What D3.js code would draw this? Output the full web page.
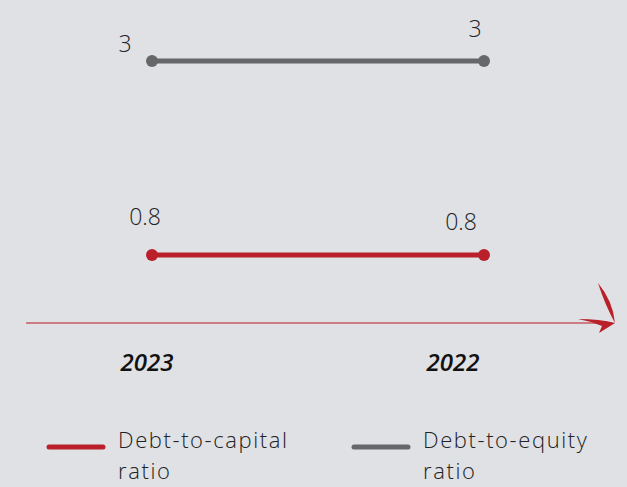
<!DOCTYPE html>
<html>
<head>
<meta charset="utf-8">
<script src="https://cdn.jsdelivr.net/npm/d3@7"></script>
<style>
  html, body { margin: 0; padding: 0; background: #dfe1e5; }
  svg { display: block; }
</style>
</head>
<body>
<svg id="chart" width="627" height="487"></svg>
<script>
// Ratios by year
const years = ["2023", "2022"];
const debtToCapital = [0.8, 0.8];
const debtToEquity = [3, 3];
const seriesNames = ["Debt-to-capital ratio", "Debt-to-equity ratio"];

const W = 627, H = 487;
const svg = d3.select("#chart");

svg.append("rect").attr("width", W).attr("height", H).attr("fill", "#dfe1e5");

const x = d3.scalePoint().domain(years).range([152, 484]);
const y = d3.scaleLinear().domain([0, 3]).range([325.5, 61]);

const series = [
  { name: seriesNames[0], values: debtToCapital, color: "#b9202a",
    labelOffsets: [[-7, -30], [-23, -25]] },
  { name: seriesNames[1], values: debtToEquity, color: "#666769",
    labelOffsets: [[-27, -9], [-9, -24]] }
];

// Baseline with brush-stroke arrow
const baseY = 323;
svg.append("line")
  .attr("x1", 26).attr("x2", 612)
  .attr("y1", baseY).attr("y2", baseY)
  .attr("stroke", "#c65a60").attr("stroke-width", 1.3);

const ax = 615, ay = baseY;
svg.append("path")
  .attr("d", `M${ax - 17},${ay - 40} Q${ax - 2},${ay - 22} ${ax},${ay} Q${ax - 10},${ay - 18} ${ax - 17},${ay - 40} Z`)
  .attr("fill", "#b9202a");
svg.append("path")
  .attr("d", `M${ax - 37},${ay - 4} Q${ax - 15},${ay - 4} ${ax},${ay} L${ax - 16},${ay + 10} L${ax - 13},${ay + 3} Q${ax - 25},${ay - 2} ${ax - 37},${ay - 4} Z`)
  .attr("fill", "#b9202a");

const line = d3.line().x((d, i) => x(years[i])).y(d => y(d));

series.forEach(s => {
  svg.append("path")
    .datum(s.values)
    .attr("d", line)
    .attr("fill", "none")
    .attr("stroke", s.color)
    .attr("stroke-width", 5);

  svg.selectAll(null).data(s.values).enter().append("circle")
    .attr("cx", (d, i) => x(years[i]))
    .attr("cy", d => y(d))
    .attr("r", 6)
    .attr("fill", s.color);

  svg.selectAll(null).data(s.values).enter().append("text")
    .attr("x", (d, i) => x(years[i]) + s.labelOffsets[i][0])
    .attr("y", (d, i) => y(d) + s.labelOffsets[i][1])
    .attr("text-anchor", "middle")
    .attr("font-family", "'Open Sans', sans-serif")
    .attr("font-weight", 300)
    .attr("font-size", 23)
    .attr("fill", "#222")
    .text(d => d);
});

// Year labels
svg.selectAll(null).data(years).enter().append("text")
  .attr("x", (d, i) => x(d) + (i === 0 ? -5 : -31))
  .attr("y", 371)
  .attr("text-anchor", "middle")
  .attr("font-family", "'Open Sans', sans-serif")
  .attr("font-style", "italic")
  .attr("font-weight", 600)
  .attr("font-size", 24)
  .attr("fill", "#111")
  .text(d => d);

// Legend
const legendX = [47, 352];
series.forEach((s, i) => {
  const g = svg.append("g").attr("transform", `translate(${legendX[i]},0)`);
  g.append("line")
    .attr("x1", 2).attr("x2", 56)
    .attr("y1", 447).attr("y2", 447)
    .attr("stroke", s.color).attr("stroke-width", 5)
    .attr("stroke-linecap", "round");
  const words = s.name.split(" ");
  const t = g.append("text")
    .attr("font-family", "'Open Sans', sans-serif")
    .attr("font-weight", 300)
    .attr("font-size", 22)
    .attr("letter-spacing", 1.6)
    .attr("fill", "#222");
  t.append("tspan").attr("x", 71).attr("y", 448).text(words[0]);
  t.append("tspan").attr("x", 71).attr("y", 479).text(words.slice(1).join(" "));
});
</script>
</body>
</html>
